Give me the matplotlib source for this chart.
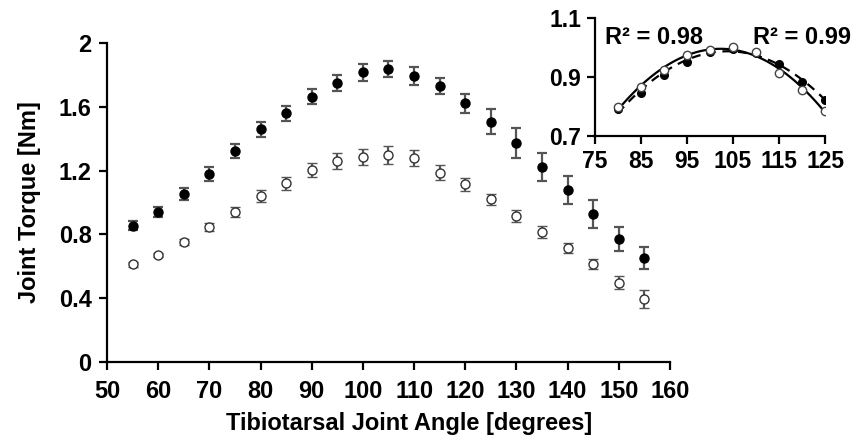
import numpy as np
import matplotlib
matplotlib.use("Agg")
import matplotlib.pyplot as plt

plt.rcParams['font.family'] = ['Liberation Sans', 'DejaVu Sans']
plt.rcParams['font.weight'] = 'bold'

# main chart data
angle = [55, 60, 65, 70, 75, 80, 85, 90, 95, 100, 105,
         110, 115, 120, 125, 130, 135, 140, 145, 150, 155]
torque_filled = [0.855, 0.942, 1.053, 1.179, 1.325, 1.459, 1.559, 1.664, 1.747, 1.816, 1.835,
                 1.795, 1.730, 1.622, 1.507, 1.371, 1.225, 1.078, 0.926, 0.771, 0.650]
err_filled = [0.03, 0.03, 0.04, 0.045, 0.044, 0.046, 0.049, 0.049, 0.05, 0.052, 0.05,
              0.057, 0.049, 0.06, 0.078, 0.094, 0.088, 0.089, 0.087, 0.073, 0.07]
torque_open = [0.612, 0.671, 0.754, 0.848, 0.942, 1.041, 1.120, 1.204, 1.260, 1.283, 1.296,
               1.277, 1.187, 1.114, 1.020, 0.915, 0.817, 0.713, 0.614, 0.497, 0.395]
err_open = [0.015, 0.015, 0.02, 0.025, 0.03, 0.035, 0.04, 0.046, 0.05, 0.05, 0.055,
            0.05, 0.045, 0.04, 0.035, 0.035, 0.038, 0.03, 0.03, 0.04, 0.054]

# inset data (normalized)
ins_angle = [80, 85, 90, 95, 100, 105, 110, 115, 120, 125]
norm_open = [0.797, 0.865, 0.924, 0.975, 0.992, 1.0, 0.986, 0.915, 0.856, 0.786]
norm_filled = [0.79, 0.847, 0.907, 0.952, 0.985, 0.995, 0.98, 0.943, 0.884, 0.822]

FS = 17

fig = plt.figure(figsize=(8.51, 4.44), dpi=100)
ax = fig.add_axes([0.1257, 0.1847, 0.6616, 0.7185])

ax.errorbar(angle, torque_filled, yerr=err_filled, fmt='o', color='black', ms=6.5,
            ecolor='#555555', elinewidth=1.6, capsize=3.5, capthick=1.6, zorder=3)
ax.errorbar(angle, torque_open, yerr=err_open, fmt='o', mfc='white', mec='#333333', ms=6.5,
            mew=1.0, ecolor='#555555', elinewidth=1.6, capsize=3.5, capthick=1.6, zorder=3)

ax.set_xlim(50, 160)
ax.set_ylim(0, 2)
ax.set_xticks(range(50, 161, 10))
ax.set_yticks([0, 0.4, 0.8, 1.2, 1.6, 2])
ax.set_yticklabels(['0', '0.4', '0.8', '1.2', '1.6', '2'])
for s in ['top', 'right']:
    ax.spines[s].set_visible(False)
for s in ['left', 'bottom']:
    ax.spines[s].set_linewidth(1.6)
ax.tick_params(width=1.6, length=6, labelsize=FS, pad=5)
ax.tick_params(axis='x', pad=7)
ax.set_xlabel('Tibiotarsal Joint Angle [degrees]', fontsize=FS, fontweight='bold', va='center')
ax.set_ylabel('Joint Torque [Nm]', fontsize=FS, fontweight='bold', va='center')
ax.xaxis.set_label_coords(0.536, -0.194)
ax.yaxis.set_label_coords(-0.137, 0.5)

# inset
ins = fig.add_axes([0.6992, 0.6937, 0.2703, 0.2658])
xs = np.linspace(80, 125, 100)
fit_open = np.polyval(np.polyfit(ins_angle, norm_open, 2), xs)
fit_filled = np.polyval(np.polyfit(ins_angle, norm_filled, 2), xs)
ins.plot(xs, fit_filled, color='black', lw=1.6, ls=(0, (4, 3)), zorder=2)
ins.plot(xs, fit_open, color='black', lw=1.6, zorder=2)
ins.plot(ins_angle, norm_filled, 'o', color='black', ms=5.5, zorder=3)
ins.plot(ins_angle, norm_open, 'o', mfc='white', mec='#444444', mew=1.0, ms=6, zorder=4)
ins.set_xlim(75, 125)
ins.set_ylim(0.7, 1.1)
ins.set_xticks([75, 85, 95, 105, 115, 125])
ins.set_yticks([0.7, 0.9, 1.1])
for s in ['top', 'right']:
    ins.spines[s].set_visible(False)
for s in ['left', 'bottom']:
    ins.spines[s].set_linewidth(1.6)
ins.tick_params(width=1.6, length=6, labelsize=16.5, pad=4)
ins.patch.set_alpha(0)
ins.text(77.2, 1.035, 'R² = 0.98', fontsize=FS, fontweight='bold', va='center')
ins.text(109.3, 1.035, 'R² = 0.99', fontsize=FS, fontweight='bold', va='center',
         clip_on=False)

fig.savefig('out.png', dpi=100)
